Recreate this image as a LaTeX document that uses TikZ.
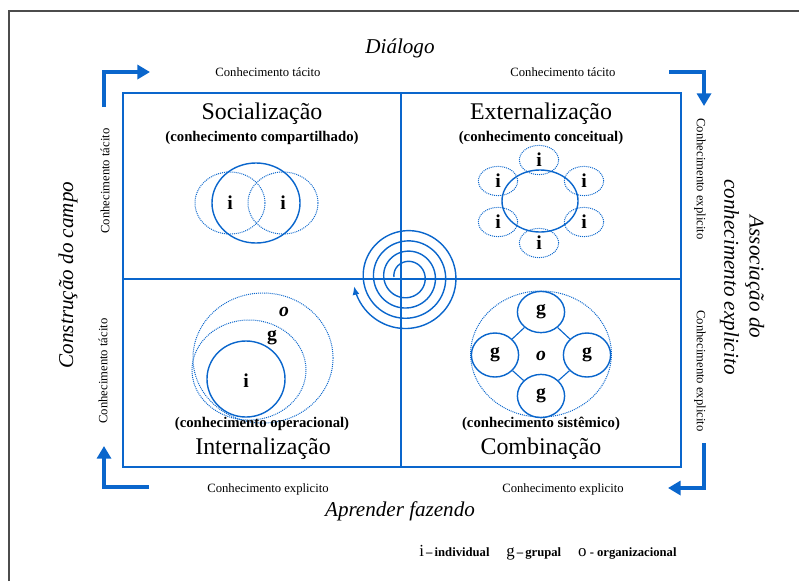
\documentclass[tikz,border=0pt]{standalone}
\usepackage{fontspec}
\setmainfont{Liberation Serif}
\usepackage{tikz}
\usetikzlibrary{arrows.meta,shapes.geometric}
\definecolor{kblue}{RGB}{10,102,204}

\begin{document}
\begin{tikzpicture}[x=0.025cm, y=-0.025cm]
    \tikzstyle{quad} = [kblue, line width=1.3pt]
    \tikzstyle{turn} = [kblue, line width=2.2pt, -{Triangle[length=9pt,width=10pt]}]
    \tikzstyle{solidc} = [ellipse, draw=kblue, line width=1pt, inner sep=0pt]
    \tikzstyle{dotc} = [ellipse, draw=kblue, line width=0.7pt, dash pattern=on 0.7pt off 0.7pt, inner sep=0pt]
    \tikzstyle{link} = [kblue, line width=0.8pt]
    \tikzstyle{smalltxt} = [font=\fontsize{9}{11}\selectfont]
    \tikzstyle{axislbl} = [font=\fontsize{15}{18}\selectfont\itshape, align=center]
    \tikzstyle{modetitle} = [font=\fontsize{17}{20}\selectfont]
    \tikzstyle{subtitle} = [font=\fontsize{10.5}{12}\selectfont\bfseries]
    \tikzstyle{lvl} = [font=\fontsize{14}{16}\selectfont\bfseries]

    \useasboundingbox (0,0) rectangle (800,581);

    % Page frame
    \draw[black!70, line width=1.2pt] (9,581) -- (9,11) -- (799,11);

    % Four quadrants
    \draw[quad] (123,93) rectangle (681,467);
    \draw[quad] (401,93) -- (401,467);
    \draw[quad] (123,279) -- (681,279);

    % Turning arrows at the corners
    \coordinate (tlA) at (104,107);
    \coordinate (tlB) at (150,72);
    \coordinate (trA) at (669,72);
    \coordinate (trB) at (704,106);
    \coordinate (brA) at (704,443);
    \coordinate (brB) at (668,488);
    \coordinate (blA) at (149,487);
    \coordinate (blB) at (104,446);
    \draw[turn] (tlA) |- (tlB);
    \draw[turn] (trA) -| (trB);
    \draw[turn] (brA) |- (brB);
    \draw[turn] (blA) -| (blB);

    % Kinds of knowledge along the sides
    \node[smalltxt] (tacTL) at (268,72) {Conhecimento tácito};
    \node[smalltxt] (tacTR) at (563,72) {Conhecimento tácito};
    \node[smalltxt] (expBL) at (268,489) {Conhecimento explicito};
    \node[smalltxt] (expBR) at (563,489) {Conhecimento explicito};
    \node[smalltxt, rotate=90] (tacL1) at (105,181) {Conhecimento tácito};
    \node[smalltxt, rotate=90] (tacL2) at (103,371) {Conhecimento tácito};
    \node[smalltxt, rotate=-90] (expR1) at (700,179) {Conhecimento explicito};
    \node[smalltxt, rotate=-90] (expR2) at (700,371) {Conhecimento explicito};

    % Outer labels
    \node[axislbl] (dialogo) at (400,48) {Diálogo};
    \node[axislbl] (aprender) at (400,511) {Aprender fazendo};
    \node[axislbl, rotate=90] (campo) at (68,275) {Construção do campo};
    \node[axislbl, rotate=-90] (assoc) at (742,277) {Associação do\\conhecimento explicito};

    % Socializacao
    \node[modetitle] (socT) at (262,114) {Socialização};
    \node[subtitle] (socS) at (262,138) {(conhecimento compartilhado)};
    \node[dotc, lvl, minimum width=1.75cm, minimum height=1.55cm] (socA) at (230,203) {i};
    \node[dotc, lvl, minimum width=1.75cm, minimum height=1.55cm] (socB) at (283,203) {i};
    \node[solidc, minimum width=2.2cm, minimum height=2cm] (socC) at (256,203) {};

    % Externalizacao
    \node[modetitle] (extT) at (541,114) {Externalização};
    \node[subtitle] (extS) at (541,138) {(conhecimento conceitual)};
    \node[solidc, minimum width=1.9cm, minimum height=1.55cm] (extC) at (540,201) {};
    \foreach \px/\py [count=\k] in {539/160, 498/181, 584/181, 498/222, 584/222, 539/243} {
        \node[dotc, lvl, minimum width=0.98cm, minimum height=0.73cm] (extI\k) at (\px,\py) {i};
    }

    % Internalizacao
    \node[dotc, minimum width=3.5cm, minimum height=3.25cm] (intO) at (263,358) {};
    \node[dotc, minimum width=2.85cm, minimum height=2.5cm] (intG) at (249,370) {};
    \node[solidc, minimum width=1.95cm, minimum height=1.9cm] (intI) at (246,379) {};
    \node[lvl, font=\fontsize{14}{16}\selectfont\bfseries\itshape] (intOl) at (284,312) {o};
    \node[lvl] (intGl) at (272,338) {g};
    \node[lvl] (intIl) at (246,381) {i};
    \node[subtitle] (intS) at (262,424) {(conhecimento operacional)};
    \node[modetitle] (intT) at (263,449) {Internalização};

    % Combinacao
    \node[dotc, minimum width=3.52cm, minimum height=3.15cm] (comO) at (541,354) {};
    \node[solidc, lvl, minimum width=1.18cm, minimum height=1.03cm] (gT) at (541,312) {g};
    \node[solidc, lvl, minimum width=1.18cm, minimum height=1.1cm] (gL) at (495,355) {g};
    \node[solidc, lvl, minimum width=1.18cm, minimum height=1.1cm] (gR) at (587,355) {g};
    \node[solidc, lvl, minimum width=1.18cm, minimum height=1.08cm] (gB) at (541,396) {g};
    \foreach \a/\b in {gT/gL, gT/gR, gB/gL, gB/gR} {
        \draw[link] (\a) -- (\b);
    }
    \node[lvl, font=\fontsize{14}{16}\selectfont\bfseries\itshape] (comOl) at (541,356) {o};
    \node[subtitle] (comS) at (541,424) {(conhecimento sistêmico)};
    \node[modetitle] (comT) at (541,449) {Combinação};

    % Spiral of knowledge
    \draw[kblue, line width=1pt, -{Latex[length=6pt,width=5pt]}]
        plot[domain=180:1610, samples=320, smooth, variable=\t]
        ({407+(13+0.0285*(\t-180))*cos(\t)}, {277+(13+0.0285*(\t-180))*sin(\t)});

    % Legend
    \node (legend) at (548,553) {{\fontsize{12}{14}\selectfont i}{\fontsize{9}{11}\selectfont\bfseries\,--\,individual}\hspace{12pt}{\fontsize{12}{14}\selectfont g}{\fontsize{9}{11}\selectfont\bfseries\,--\,grupal}\hspace{12pt}{\fontsize{12}{14}\selectfont o}{\fontsize{9}{11}\selectfont\bfseries\ - organizacional}};
\end{tikzpicture}
\end{document}
